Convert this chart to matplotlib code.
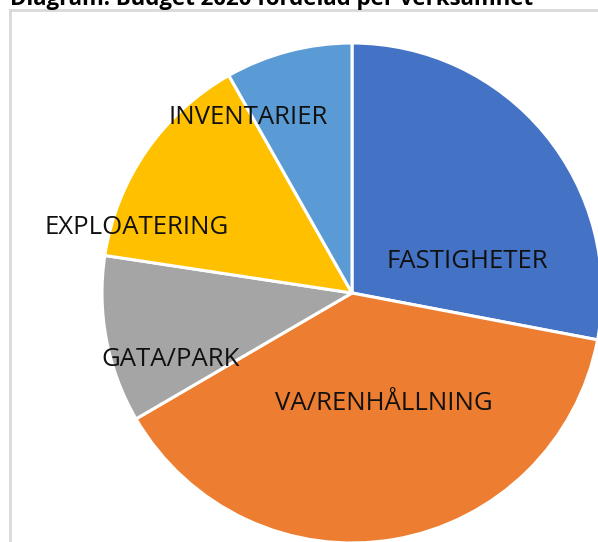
import matplotlib
matplotlib.use("Agg")
import matplotlib.pyplot as plt
from matplotlib.lines import Line2D

categories = ["FASTIGHETER", "VA/RENHÅLLNING", "GATA/PARK", "EXPLOATERING", "INVENTARIER"]
values = [28.0, 38.6, 10.8, 14.4, 8.2]
colors = ["#4472C4", "#ED7D31", "#A5A5A5", "#FFC000", "#5B9BD5"]
title = "Diagram: Budget 2020 fördelad per verksamhet"

W, H = 598, 542
fig = plt.figure(figsize=(W / 100, H / 100), dpi=100)
ax = fig.add_axes([0, 0, 1, 1])

cx, cy, r = 352, H - 293, 250
wedges, _ = ax.pie(values, colors=colors, startangle=90, counterclock=False,
                   center=(cx, cy), radius=r, frame=True,
                   wedgeprops=dict(edgecolor="white", linewidth=2.2))
ax.set_xlim(0, W)
ax.set_ylim(0, H)
ax.set_aspect("equal")
ax.axis("off")

# label positions (pixel coords from top-left)
label_pos = [(467, 261), (384, 404), (171, 359), (137, 227), (248, 117)]
for name, (x, y) in zip(categories, label_pos):
    ax.text(x, H - y, name, ha="center", va="center", fontsize=18.5,
            family="Open Sans", color="#111111")

# chart frame
ax.add_line(Line2D([9.5, 9.5], [0, H - 10], color="#D9D9D9", lw=2))
ax.add_line(Line2D([9.5, W], [H - 10, H - 10], color="#D9D9D9", lw=2))

ax.text(10, H - 5, title, ha="left", va="baseline", fontsize=16,
        family="Open Sans", fontweight="bold", color="black")

fig.savefig("out.png", dpi=100)
